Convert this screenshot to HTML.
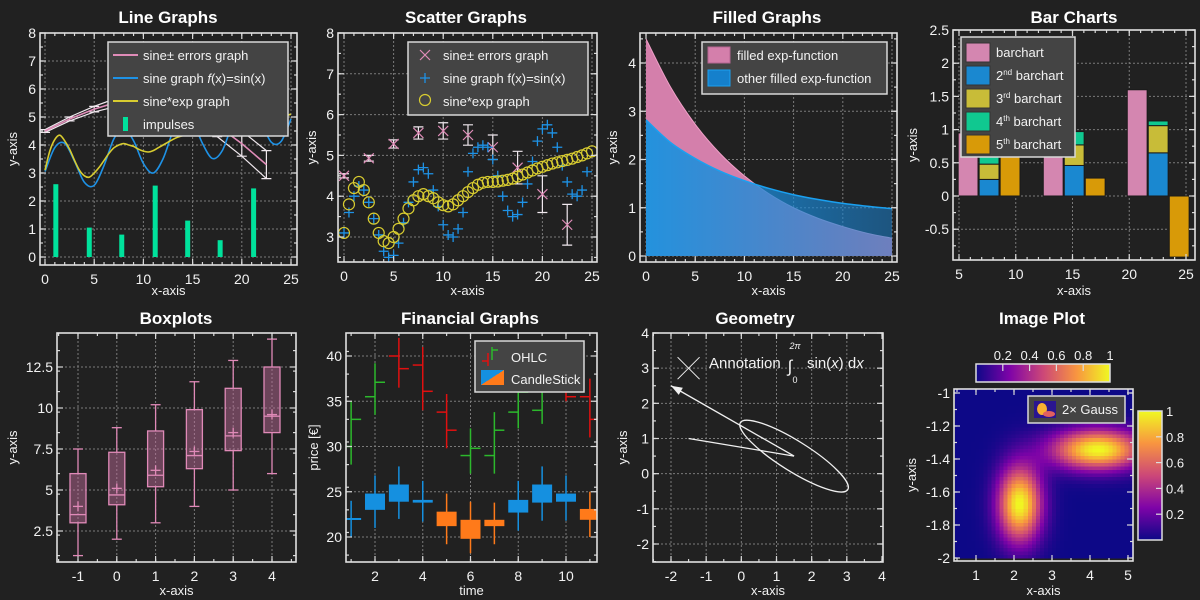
<!DOCTYPE html>
<html><head><meta charset="utf-8"><style>
html,body{margin:0;padding:0;background:#212121;}
svg{display:block;font-family:"Liberation Sans","DejaVu Sans",sans-serif;}
</style></head><body>
<svg id="c" width="1200" height="600" viewBox="0 0 1200 600" xmlns="http://www.w3.org/2000/svg">
<defs>
<linearGradient id="blueFillGrad" x1="0" x2="1" y1="0" y2="0"><stop offset="0" stop-color="#1a93e0" stop-opacity="0.95"/><stop offset="1" stop-color="#1a7fcc" stop-opacity="0.55"/></linearGradient>
<linearGradient id="plasmaH" x1="0" x2="1" y1="0" y2="0"><stop offset="0" stop-color="#0d0887"/><stop offset="0.25" stop-color="#7e03a8"/><stop offset="0.5" stop-color="#cc4778"/><stop offset="0.75" stop-color="#f89540"/><stop offset="1" stop-color="#f0f921"/></linearGradient>
<linearGradient id="plasmaV" x1="0" x2="0" y1="1" y2="0"><stop offset="0" stop-color="#0d0887"/><stop offset="0.25" stop-color="#7e03a8"/><stop offset="0.5" stop-color="#cc4778"/><stop offset="0.75" stop-color="#f89540"/><stop offset="1" stop-color="#f0f921"/></linearGradient>
<linearGradient id="candleLeg" x1="0" x2="1" y1="0" y2="1"><stop offset="0.5" stop-color="#1590e0"/><stop offset="0.5" stop-color="#ff7a1a"/></linearGradient>
</defs>
</svg>
<script>
// ---------- data ----------
const lineErrX=[0,2.5,5,7.5,10,12.5,15,17.5,20,22.5];
const lineErrY=[4.5,4.93,5.28,5.55,5.6,5.5,5.2,4.7,4.05,3.3];
const lineErrE=[0.05,0.07,0.1,0.15,0.2,0.25,0.3,0.4,0.45,0.5];
const sineX=[0,1,2,3,4,5,6,7,8,9,10,11,12,13,14,15,16,17,18,19,20,21,22,23,24,25];
const sineY=[3.05,3.91,4.06,3.42,2.67,2.56,3.27,4.22,4.61,4.15,3.34,3.0,3.51,4.48,5.09,4.85,4.06,3.52,3.79,4.71,5.5,5.51,4.8,4.1,4.13,4.93];
const sexpX=[0,0.5,1,1.5,2,2.5,3,3.5,4,4.5,5,5.5,6,6.5,7,7.5,8,8.5,9,9.5,10,10.5,11,11.5,12,12.5,13,13.5,14,14.5,15,15.5,16,16.5,17,17.5,18,18.5,19,19.5,20,20.5,21,21.5,22,22.5,23,23.5,24,24.5,25];
const sexpY=[3.1,3.8,4.2,4.35,4.15,3.85,3.45,3.1,2.9,2.85,3.0,3.2,3.45,3.7,3.9,4.0,4.05,4.0,3.95,3.85,3.78,3.75,3.8,3.9,4.0,4.1,4.2,4.28,4.33,4.35,4.35,4.36,4.38,4.4,4.43,4.48,4.53,4.58,4.63,4.68,4.72,4.76,4.8,4.83,4.86,4.89,4.92,4.96,5.0,5.05,5.1];
const impX=[1.1,4.5,7.8,11.2,14.5,17.8,21.2];
const impY=[2.6,1.05,0.8,2.55,1.3,0.6,2.45];
const scatX=[0,0.5,1,1.5,2,2.5,3,3.5,4,4.5,5,5.5,6,6.5,7,7.5,8,8.5,9,9.5,10,10.5,11,11.5,12,12.5,13,13.5,14,14.5,15,15.5,16,16.5,17,17.5,18,18.5,19,19.5,20,20.5,21,21.5,22,22.5,23,23.5,24,24.5];
const scatY=[3.1,3.6,4.0,4.25,4.15,3.85,3.45,3.05,2.65,2.5,2.55,2.85,3.35,3.85,4.35,4.65,4.7,4.55,4.15,3.75,3.3,3.05,3.0,3.2,3.6,4.6,5.05,5.2,5.25,5.2,4.9,4.5,4.0,3.65,3.5,3.55,3.85,4.3,4.85,5.35,5.65,5.75,5.55,5.2,4.75,4.35,4.05,4.0,4.15,4.6];
const fillX=[0,2.5,5,7.5,10,12.5,15,17.5,20,22.5,25];
const fillPink=[4.5,3.5,2.73,2.13,1.66,1.29,1.0,0.78,0.61,0.47,0.37];
const fillBlue=[2.82,2.35,2.02,1.76,1.56,1.4,1.27,1.17,1.09,1.03,0.98];
const barX=[5.8,13.3,20.7];
const bar1=[0.95,1.05,1.6];
const bar2=[0.25,0.46,0.65];
const bar3=[0.23,0.31,0.41];
const bar4=[0.14,0.2,0.07];
const bar5=[0.75,0.27,-0.92];
const boxX=[-1,0,1,2,3,4];
const boxMin=[1.0,2.0,3.0,4.0,5.0,6.0];
const boxQ1=[3.0,4.1,5.2,6.3,7.4,8.5];
const boxMed=[3.5,4.7,5.9,7.1,8.3,9.5];
const boxQ3=[6.0,7.3,8.6,9.9,11.2,12.5];
const boxMax=[7.5,8.8,10.2,11.6,12.9,14.2];
const boxMean=[4.0,5.1,6.2,7.35,8.5,9.6];
const ohlcDay=[1,2,3,4,5,6,7,8,9,10,11];
const ohlcO=[30,35.5,40,39,33.8,29,29,33.8,34,37.5,35.5];
const ohlcH=[35,39.2,42,41,35.8,32,33.8,36.5,38,38.5,37.5];
const ohlcL=[28,33.5,36.5,34,29.8,27,27,32,32.5,35,31];
const ohlcC=[33,37.1,38.6,36.1,31.8,29.8,31.8,36,37,35.5,33];
const candO=[22,23,23.9,23.8,22.8,21.9,21.9,22.7,23.8,23.9,23.1];
const candH=[24,26.8,27.8,26.2,24.8,23.9,23.8,26.2,27.8,26.8,25];
const candL=[20,21,22,21.7,19.2,18.2,19.2,20.7,21.8,21.8,20];
const candC=[22.1,24.8,25.8,24.1,21.2,19.8,21.2,24.1,25.8,24.8,21.9];
const geoPolyX=[-1.5,1.5];
const geoPolyY=[1,0.5];
const geoArrowX=[1.5,-2];
const geoArrowY=[0.5,2.5];
const gaussCX=[2.15,4.2];
const gaussCY=[-1.67,-1.34];
const gaussSX=[0.4,0.85];
const gaussSY=[0.16,0.085];

// ---------- helpers ----------
const svg=document.getElementById('c');
const NS='http://www.w3.org/2000/svg';
function mk(tag,attrs,parent){const e=document.createElementNS(NS,tag);for(const k in attrs)e.setAttribute(k,attrs[k]);(parent||svg).appendChild(e);return e;}
function txt(s,x,y,size,anchor,parent,extra){const t=mk('text',Object.assign({x:x,y:y,'font-size':size,fill:'#f2f2f2','text-anchor':anchor||'start'},extra||{}),parent);t.textContent=s;return t;}
function lin(p0,v0,p1,v1){return v=>p0+(v-v0)*(p1-p0)/(v1-v0);}
function smooth(pts){let d='M'+pts[0][0]+','+pts[0][1];for(let i=0;i<pts.length-1;i++){const p0=pts[Math.max(i-1,0)],p1=pts[i],p2=pts[i+1],p3=pts[Math.min(i+2,pts.length-1)];const c1x=p1[0]+(p2[0]-p0[0])/6,c1y=p1[1]+(p2[1]-p0[1])/6,c2x=p2[0]-(p3[0]-p1[0])/6,c2y=p2[1]-(p3[1]-p1[1])/6;d+=' C'+c1x+','+c1y+' '+c2x+','+c2y+' '+p2[0]+','+p2[1];}return d;}
function fmt(v){return (Math.abs(v)<1e-9?0:+v.toFixed(2)).toString().replace('-','-');}

function panel(o){
  const g=mk('g',{});
  
  
  const sx=lin(o.xa[1],o.xa[0],o.xb[1],o.xb[0]);
  const sy=lin(o.ya[1],o.ya[0],o.yb[1],o.yb[0]);
  const f=o.frame;
  const t=txt(o.title,o.titleX,o.titleY,17,'middle',g,{'font-weight':'bold',fill:'#fff'});
  
  
  const grid=mk('g',{stroke:'#7a7a7a','stroke-width':1,'stroke-dasharray':'2,2'},g);
  
  
  o.xticks.forEach(v=>{const x=sx(v);if(x>f.l+1&&x<f.r-1)mk('line',{x1:x,x2:x,y1:f.t,y2:f.b},grid);});
  o.yticks.forEach(v=>{const y=sy(v);if(y>f.t+1&&y<f.b-1)mk('line',{x1:f.l,x2:f.r,y1:y,y2:y},grid);});
  const plot=mk('g',{},g);
  const clipId='clip'+o.name;
  const cp=mk('clipPath',{id:clipId},g);mk('rect',{x:f.l,y:f.t,width:f.r-f.l,height:f.b-f.t},cp);
  plot.setAttribute('clip-path','url(#'+clipId+')');
  
  
  const top=mk('g',{},g);
  // ticks and labels after drawing (via finish)
  function finish(){
    const ax=mk('g',{stroke:'#d8d8d8','stroke-width':1.2},g);
    
    
    o.xticks.forEach(v=>{const x=sx(v);if(x<f.l-0.5||x>f.r+0.5)return;mk('line',{x1:x,x2:x,y1:f.b,y2:f.b-6},ax);mk('line',{x1:x,x2:x,y1:f.t,y2:f.t+6},ax);});
    o.yticks.forEach(v=>{const y=sy(v);if(y<f.t-0.5||y>f.b+0.5)return;mk('line',{x1:f.l,x2:f.l+6,y1:y,y2:y},ax);mk('line',{x1:f.r,x2:f.r-6,y1:y,y2:y},ax);});
    if(o.xminor)o.xminor.forEach(v=>{const x=sx(v);if(x<f.l||x>f.r)return;mk('line',{x1:x,x2:x,y1:f.b,y2:f.b-3},ax);mk('line',{x1:x,x2:x,y1:f.t,y2:f.t+3},ax);});
    if(o.yminor)o.yminor.forEach(v=>{const y=sy(v);if(y<f.t||y>f.b)return;mk('line',{x1:f.l,x2:f.l+3,y1:y,y2:y},ax);mk('line',{x1:f.r,x2:f.r-3,y1:y,y2:y},ax);});
    const fr=mk('rect',{x:f.l,y:f.t,width:f.r-f.l,height:f.b-f.t,fill:'none',stroke:'#e0e0e0','stroke-width':1.6},g);
    
    
    const xl=mk('g',{},g);
    
    
    o.xticks.forEach((v,i)=>{const x=sx(v);if(x<f.l-3||x>f.r+8)return;txt(o.xlabels?o.xlabels[i]:fmt(v),x,f.b+19,14,'middle',xl);});
    const yl=mk('g',{},g);
    
    
    o.yticks.forEach((v,i)=>{const y=sy(v);if(y<f.t-6||y>f.b+6)return;txt(o.ylabels?o.ylabels[i]:fmt(v),f.l-4,y+5,14,'end',yl);});
    const xt=txt(o.xlabel,(f.l+f.r)/2,o.xlabelY,13,'middle',g);
    
    
    const yt=txt(o.ylabel,0,0,13,'middle',g,{transform:'translate('+o.ylabelX+','+((f.t+f.b)/2)+') rotate(-90)'});
    
    
  }
  return {g,plot,sx,sy,finish,f};
}
function range(a,b,s){const r=[];for(let v=a;v<=b+1e-9;v+=s)r.push(+v.toFixed(4));return r;}
function legendBox(parent,x,y,w,h){const r=mk('rect',{x:x,y:y,width:w,height:h,fill:'#444',stroke:'#d8d8d8','stroke-width':1.5},parent);return r;}
function xMark(g,x,y,s,col,w){mk('path',{d:`M${x-s},${y-s}L${x+s},${y+s}M${x-s},${y+s}L${x+s},${y-s}`,stroke:col,'stroke-width':w||1.2,fill:'none'},g);}
function plusMark(g,x,y,s,col){mk('path',{d:`M${x-s},${y}L${x+s},${y}M${x},${y-s}L${x},${y+s}`,stroke:col,'stroke-width':1.3,fill:'none'},g);}

const PINK='#e08cb8',BLUE='#1e92e6',YEL='#d8cc30',GRN='#00e29c';

// ---------- Panel 1: Line Graphs ----------
(function(){
const p=panel({name:'line-graphs-panel',title:'Line Graphs',titleX:168,titleY:23,frame:{l:40,r:297,t:33,b:265},xa:[0,45],xb:[25,291],ya:[0,257],yb:[8,33],xticks:range(0,25,5),yticks:range(0,8,1),xminor:range(0,25,1),yminor:range(0,8,0.5),xlabel:'x-axis',xlabelY:295,ylabel:'y-axis',ylabelX:17});
const {plot,sx,sy}=p;
impX.forEach((v,i)=>{const r=mk('rect',{x:sx(v)-2.5,y:sy(impY[i]),width:5,height:sy(0)-sy(impY[i]),fill:GRN},plot);});
const up=lineErrX.map((v,i)=>[sx(v),sy(lineErrY[i]+lineErrE[i])]);
const lo=lineErrX.map((v,i)=>[sx(v),sy(lineErrY[i]-lineErrE[i])]);
mk('polyline',{points:up.map(q=>q.join(',')).join(' '),fill:'none',stroke:'#f0e8ee','stroke-width':1.2},plot);
mk('polyline',{points:lo.map(q=>q.join(',')).join(' '),fill:'none',stroke:'#f0e8ee','stroke-width':1.2},plot);
lineErrX.forEach((v,i)=>{const x=sx(v),a=sy(lineErrY[i]+lineErrE[i]),b=sy(lineErrY[i]-lineErrE[i]);mk('path',{d:`M${x},${a}L${x},${b}M${x-5},${a}L${x+5},${a}M${x-5},${b}L${x+5},${b}`,stroke:'#f0e8ee','stroke-width':1.2},plot);});
const el=mk('polyline',{points:lineErrX.map((v,i)=>sx(v)+','+sy(lineErrY[i])).join(' '),fill:'none',stroke:PINK,'stroke-width':1.6},plot);

const sl=mk('path',{d:smooth(sineX.map((v,i)=>[sx(v),sy(sineY[i])])),fill:'none',stroke:BLUE,'stroke-width':1.6},plot);

const yl=mk('path',{d:smooth(sexpX.map((v,i)=>[sx(v),sy(sexpY[i])])),fill:'none',stroke:YEL,'stroke-width':1.6},plot);

p.finish();
const lg=mk('g',{},p.g);
legendBox(lg,108,42,180,94);
const items=[['sine± errors graph',PINK,'l'],['sine graph ',BLUE,'l'],['sine*exp graph',YEL,'l'],['impulses',GRN,'i']];
items.forEach((it,i)=>{const y=55+i*23;if(it[2]=='l')mk('line',{x1:113,x2:138,y1:y,y2:y,stroke:it[1],'stroke-width':2},lg);else mk('rect',{x:123,y:y-7,width:5,height:14,fill:it[1]},lg);
 const t=txt(it[0],143,y+5,13,'start',lg);if(i==1){const s=mk('tspan',{'font-style':'italic'},t);s.textContent='f';const s2=mk('tspan',{},t);s2.textContent='(x)=sin(x)';}
 });
})();

// ---------- Panel 2: Scatter ----------
(function(){
const p=panel({name:'scatter-graphs-panel',title:'Scatter Graphs',titleX:466,titleY:23,frame:{l:338,r:597,t:33,b:262},xa:[0,344],xb:[25,592],ya:[3,237],yb:[8,33],xticks:range(0,25,5),yticks:range(3,8,1),xminor:range(0,25,1),yminor:range(2.5,8,0.5),xlabel:'x-axis',xlabelY:295,ylabel:'y-axis',ylabelX:316});
const {plot,sx,sy}=p;
lineErrX.forEach((v,i)=>{const x=sx(v),a=sy(lineErrY[i]+lineErrE[i]),b=sy(lineErrY[i]-lineErrE[i]);mk('path',{d:`M${x},${a}L${x},${b}M${x-5},${a}L${x+5},${a}M${x-5},${b}L${x+5},${b}`,stroke:'#f0e8ee','stroke-width':1.2},plot);xMark(plot,x,sy(lineErrY[i]),5,PINK);});
scatX.forEach((v,i)=>{plusMark(plot,sx(v),sy(scatY[i]),5,BLUE);});
sexpX.forEach((v,i)=>{const c=mk('circle',{cx:sx(v),cy:sy(sexpY[i]),r:5.5,fill:'none',stroke:YEL,'stroke-width':1.2},plot);});
p.finish();
const lg=mk('g',{},p.g);
legendBox(lg,408,42,180,73);
xMark(lg,425,55,5,PINK);plusMark(lg,425,78,5,BLUE);mk('circle',{cx:425,cy:100,r:5.5,fill:'none',stroke:YEL,'stroke-width':1.2},lg);
['sine± errors graph','sine graph f(x)=sin(x)','sine*exp graph'].forEach((s,i)=>{const t=txt(s,443,60+i*23,13,'start',lg);});
})();

// ---------- Panel 3: Filled ----------
(function(){
const p=panel({name:'filled-graphs-panel',title:'Filled Graphs',titleX:767,titleY:23,frame:{l:640,r:897,t:33,b:262},xa:[0,646],xb:[25,892],ya:[0,256],yb:[4,63],xticks:range(0,25,5),yticks:range(0,4,1),xminor:range(0,25,1),yminor:range(0,4.5,0.5),xlabel:'x-axis',xlabelY:295,ylabel:'y-axis',ylabelX:617});
const {plot,sx,sy}=p;
function area(ys,fill,name){const pts=fillX.map((v,i)=>[sx(v),sy(ys[i])]);const d=smooth(pts)+` L${sx(fillX[fillX.length-1])},${sy(0)} L${sx(fillX[0])},${sy(0)} Z`;const a=mk('path',{d:d,fill:fill},plot);return pts;}
const pp=area(fillPink,'#d47fab','pink-area');
mk('path',{d:smooth(pp),fill:'none',stroke:'#f0a0c8','stroke-width':1},plot);
const bp=area(fillBlue,'url(#blueFillGrad)','blue-area');
mk('path',{d:smooth(bp),fill:'none',stroke:'#1aa0f0','stroke-width':1.5},plot);
p.finish();
const lg=mk('g',{},p.g);
legendBox(lg,702,42,185,52);
mk('rect',{x:708,y:47,width:22,height:16,fill:'#d47fab',stroke:'#b56690'},lg);
mk('rect',{x:708,y:70,width:22,height:16,fill:'#1580cc',stroke:'#1aa0f0'},lg);
['filled exp-function','other filled exp-function'].forEach((s,i)=>{const t=txt(s,737,60+i*23,13,'start',lg);});
})();

// ---------- Panel 4: Bar Charts ----------
(function(){
const p=panel({name:'bar-charts-panel',title:'Bar Charts',titleX:1074,titleY:23,frame:{l:953,r:1195,t:30,b:260},xa:[5,959],xb:[25,1186],ya:[0,196],yb:[2.5,30],xticks:range(5,25,5),yticks:range(-0.5,2.5,0.5),xminor:range(5,27,1),yminor:range(-1,2.5,0.25),xlabel:'x-axis',xlabelY:295,ylabel:'y-axis',ylabelX:917});
const {plot,sx,sy}=p;
const w=1.75;
function bar(x,y0,y1,col,name){const a=sy(Math.max(y0,y1)),b=sy(Math.min(y0,y1));const r=mk('rect',{x:sx(x-w/2),y:a,width:sx(x+w/2)-sx(x-w/2),height:b-a,fill:col,stroke:'#1a1a1a','stroke-width':1},plot);}
barX.forEach((x,i)=>{
 bar(x,0,bar1[i],'#d486b0','bar-1');
 const x2=x+1.85;let b=0;
 bar(x2,b,b+bar2[i],'#1a88d0','bar-2');b+=bar2[i];
 bar(x2,b,b+bar3[i],'#c8bc38','bar-3');b+=bar3[i];
 bar(x2,b,b+bar4[i],'#10c890','bar-4');
 bar(x+3.7,0,bar5[i],'#d89a08','bar-5');
});
p.finish();
const lg=mk('g',{},p.g);
legendBox(lg,961,37,114,120);
const cols=['#d486b0','#1a88d0','#c8bc38','#10c890','#d89a08'];
const labs=[['barchart',''],['2','nd'],['3','rd'],['4','th'],['5','th']];
labs.forEach((l,i)=>{const y=52+i*23;mk('rect',{x:966,y:y-9,width:24,height:19,fill:cols[i],stroke:'#333'},lg);const t=txt(l[0],996,y+5,13,'start',lg);if(l[1]){const s=mk('tspan',{'font-size':8,dy:-5},t);s.textContent=l[1];const s2=mk('tspan',{dy:5},t);s2.textContent=' barchart';}});
})();

// ---------- Panel 5: Boxplots ----------
(function(){
const p=panel({name:'boxplots-panel',title:'Boxplots',titleX:176,titleY:324,frame:{l:57,r:296,t:333,b:562},xa:[-1,78],xb:[4,272],ya:[2.5,531],yb:[12.5,367],xticks:range(-1,4,1),yticks:range(2.5,12.5,2.5),xminor:range(-1.5,4.5,0.5),yminor:range(1,14.5,1.25),xlabel:'x-axis',xlabelY:595,ylabel:'y-axis',ylabelX:17});
const {plot,sx,sy}=p;
boxX.forEach((x,i)=>{const g=mk('g',{stroke:'#e08ab8','stroke-width':1.3},plot);
 const cx=sx(x),hw=8;
 mk('line',{x1:cx,x2:cx,y1:sy(boxMax[i]),y2:sy(boxQ3[i])},g);mk('line',{x1:cx,x2:cx,y1:sy(boxQ1[i]),y2:sy(boxMin[i])},g);
 mk('line',{x1:cx-5,x2:cx+5,y1:sy(boxMax[i]),y2:sy(boxMax[i])},g);mk('line',{x1:cx-5,x2:cx+5,y1:sy(boxMin[i]),y2:sy(boxMin[i])},g);
 mk('rect',{x:cx-hw,y:sy(boxQ3[i]),width:2*hw,height:sy(boxQ1[i])-sy(boxQ3[i]),fill:'rgba(200,110,160,0.45)'},g);
 mk('line',{x1:cx-hw,x2:cx+hw,y1:sy(boxMed[i]),y2:sy(boxMed[i])},g);
 mk('line',{x1:cx-5,x2:cx+5,y1:sy(boxMean[i]),y2:sy(boxMean[i])},g);mk('line',{x1:cx,x2:cx,y1:sy(boxMean[i])-5,y2:sy(boxMean[i])+5},g);
});
p.finish();
})();

// ---------- Panel 6: Financial ----------
(function(){
const p=panel({name:'financial-graphs-panel',title:'Financial Graphs',titleX:470,titleY:324,frame:{l:346,r:597,t:333,b:562},xa:[2,375],xb:[10,566],ya:[20,537],yb:[40,356],xticks:range(2,10,2),yticks:range(20,40,5),xminor:range(1,11,1),yminor:range(18,42,2.5),xlabel:'time',xlabelY:595,ylabel:'price [€]',ylabelX:318});
const {plot,sx,sy}=p;
ohlcDay.forEach((d,i)=>{const col=ohlcC[i]>=ohlcO[i]?'#2cb82c':'#e01010';const x=sx(d);const g=mk('g',{stroke:col,'stroke-width':1.5},plot);
 mk('line',{x1:x,x2:x,y1:sy(ohlcH[i]),y2:sy(ohlcL[i])},g);mk('line',{x1:x-10,x2:x,y1:sy(ohlcO[i]),y2:sy(ohlcO[i])},g);mk('line',{x1:x,x2:x+10,y1:sy(ohlcC[i]),y2:sy(ohlcC[i])},g);});
ohlcDay.forEach((d,i)=>{const up=candC[i]>=candO[i];const col=up?'#1590e0':'#ff7a1a';const x=sx(d);const g=mk('g',{},plot);
 mk('line',{x1:x,x2:x,y1:sy(candH[i]),y2:sy(candL[i]),stroke:col,'stroke-width':1.5},g);
 const a=sy(Math.max(candO[i],candC[i])),b=sy(Math.min(candO[i],candC[i]));mk('rect',{x:x-10,y:a,width:20,height:Math.max(b-a,2),fill:col},g);});
p.finish();
const lg=mk('g',{},p.g);
legendBox(lg,475,341,109,51);
mk('path',{d:'M492,347L492,360M492,350L498,350',stroke:'#2cb82c','stroke-width':1.5,fill:'none'},lg);
mk('path',{d:'M488,353L488,366M482,361L488,361',stroke:'#e01010','stroke-width':1.5,fill:'none'},lg);
mk('rect',{x:481,y:370,width:23,height:15,fill:'url(#candleLeg)'},lg);
[['OHLC',362],['CandleStick',384]].forEach(s=>{const t=txt(s[0],511,s[1],13,'start',lg);});
})();

// ---------- Panel 7: Geometry ----------
(function(){
const p=panel({name:'geometry-panel',title:'Geometry',titleX:755,titleY:324,frame:{l:653,r:883,t:333,b:562},xa:[-2,671],xb:[4,882],ya:[4,333],yb:[-2,544],xticks:range(-2,4,1),yticks:range(-2,4,1),xminor:range(-2.5,4,0.5),yminor:range(-2.5,4,0.5),xlabel:'x-axis',xlabelY:595,ylabel:'y-axis',ylabelX:627});
const {plot,sx,sy}=p;
const W='#f0f0f0';
const e=mk('ellipse',{cx:sx(1.5),cy:sy(0.5),rx:sx(1.5+1.8)-sx(1.5),ry:sx(0.43)-sx(0),fill:'none',stroke:W,'stroke-width':1.3,transform:`rotate(32 ${sx(1.5)} ${sy(0.5)})`},plot);

mk('polyline',{points:geoPolyX.map((v,i)=>sx(v)+','+sy(geoPolyY[i])).join(' '),fill:'none',stroke:W,'stroke-width':1.3},plot);
const ax0=sx(geoArrowX[0]),ay0=sy(geoArrowY[0]),ax1=sx(geoArrowX[1]),ay1=sy(geoArrowY[1]);
const ar=mk('line',{x1:ax0,y1:ay0,x2:ax1,y2:ay1,stroke:W,'stroke-width':1.3},plot);
const ang=Math.atan2(ay1-ay0,ax1-ax0);const hl=12;
mk('polygon',{points:`${ax1},${ay1} ${ax1-hl*Math.cos(ang-0.35)},${ay1-hl*Math.sin(ang-0.35)} ${ax1-hl*Math.cos(ang+0.35)},${ay1-hl*Math.sin(ang+0.35)}`,fill:W},plot);
xMark(plot,sx(-1.5),sy(3),11,W,1);
const t=txt('Annotation',709,368,15,'start',p.g);
txt('∫',790,372,17,'middle',p.g,{'font-style':'italic'});
txt('2π',795,349,9,'middle',p.g,{'font-style':'italic'});
txt('0',795,383,9,'middle',p.g);
const t2=txt('sin(',807,368,15,'start',p.g);const i1=mk('tspan',{'font-style':'italic'},t2);i1.textContent='x';const i2=mk('tspan',{},t2);i2.textContent=') d';const i3=mk('tspan',{'font-style':'italic'},t2);i3.textContent='x';
p.finish();
})();

// ---------- Panel 8: Image Plot ----------
(function(){
const p=panel({name:'image-plot-panel',title:'Image Plot',titleX:1042,titleY:324,frame:{l:954,r:1133,t:389,b:561},xa:[1,976],xb:[5,1128],ya:[-1,393],yb:[-2,558],xticks:range(1,5,1),yticks:range(-2,-1,0.2),xminor:range(0.5,5.5,0.5),yminor:range(-2,-1,0.1),xlabel:'x-axis',xlabelY:595,ylabel:'y-axis',ylabelX:916});
const {plot,sx,sy}=p;
const stops=[[13,8,135],[126,3,168],[204,71,120],[248,149,64],[240,249,33]];
function cmap(v){v=Math.max(0,Math.min(1,v))*4;const i=Math.min(3,Math.floor(v)),t=v-i;const a=stops[i],b=stops[i+1];return `rgb(${Math.round(a[0]+(b[0]-a[0])*t)},${Math.round(a[1]+(b[1]-a[1])*t)},${Math.round(a[2]+(b[2]-a[2])*t)})`;}
const nx=48,ny=48,x0=0.45,x1=5.55,y0=-2.0,y1=-0.97;
const hm=mk('g',{'shape-rendering':'crispEdges'},plot);
for(let j=0;j<ny;j++)for(let i=0;i<nx;i++){const x=x0+(i+0.5)*(x1-x0)/nx,y=y0+(j+0.5)*(y1-y0)/ny;let v=0;for(let k=0;k<gaussCX.length;k++){v+=Math.exp(-((x-gaussCX[k])**2/(2*gaussSX[k]**2)+(y-gaussCY[k])**2/(2*gaussSY[k]**2)));}
 const xa=sx(x0+i*(x1-x0)/nx),xb=sx(x0+(i+1)*(x1-x0)/nx),ya=sy(y0+(j+1)*(y1-y0)/ny),yb=sy(y0+j*(y1-y0)/ny);
 mk('rect',{x:xa,y:ya,width:xb-xa+0.6,height:yb-ya+0.6,fill:cmap(v)},hm);}
p.finish();
const lg=mk('g',{},p.g);
legendBox(lg,1028,396,97,27);
mk('rect',{x:1034,y:401,width:22,height:17,fill:'#2a1590'},lg);mk('ellipse',{cx:1042,cy:409,rx:5,ry:6,fill:'#f8b030'},lg);mk('ellipse',{cx:1049,cy:414,rx:6,ry:3,fill:'#e06060'},lg);
const lt=txt('2× Gauss',1062,414,13,'start',lg);
const cb1=mk('rect',{x:976,y:364,width:134,height:18,fill:'url(#plasmaH)',stroke:'#ddd','stroke-width':1.5},p.g);
const cbv=[0.2,0.4,0.6,0.8,1];
cbv.forEach(v=>{const x=976+134*v;if(v<1)mk('line',{x1:x,x2:x,y1:364,y2:371,stroke:'#ddd','stroke-width':1.2},p.g);txt(String(v),x,360,13,'middle',p.g);});
const cb2=mk('rect',{x:1138,y:411,width:24,height:129,fill:'url(#plasmaV)',stroke:'#ddd','stroke-width':1.5},p.g);
cbv.forEach(v=>{const y=540-129*v;if(v<1)mk('line',{x1:1156,x2:1162,y1:y,y2:y,stroke:'#ddd','stroke-width':1.2},p.g);txt(String(v),1166,y+5,13,'start',p.g);});
})();
</script>
</body></html>
